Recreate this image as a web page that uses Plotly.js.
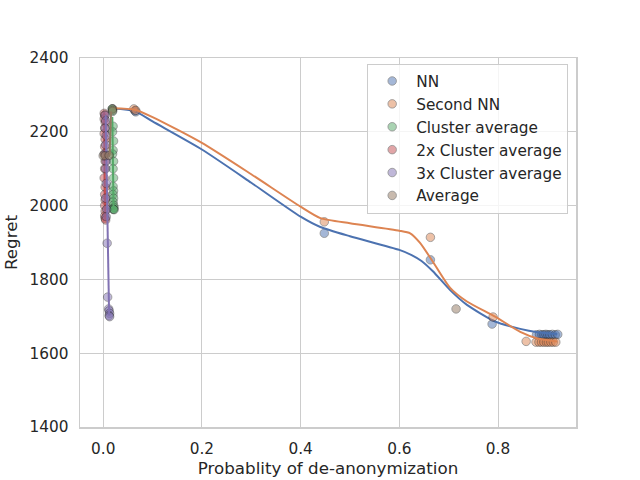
<!DOCTYPE html>
<html>
<head>
<meta charset="utf-8">
<script src="https://cdn.plot.ly/plotly-3.0.1.min.js"></script>
<style>
  html, body { margin: 0; padding: 0; background: #fff; }
  #chart { width: 640px; height: 480px; }
</style>
</head>
<body>
<div id="chart"></div>
<script>
// Regret vs probability of de-anonymization, one scatter + fitted curve per strategy.

// --- scatter points ---
const nnX = [0.019, 0.064, 0.066, 0.448, 0.663, 0.788, 0.878, 0.884, 0.889, 0.893, 0.897, 0.901, 0.905, 0.910, 0.916, 0.921];
const nnY = [2262, 2257, 2254, 1925, 1853, 1679, 1650, 1651, 1650, 1650, 1651, 1650, 1650, 1651, 1650, 1651];

const secondNnX = [0.019, 0.062, 0.066, 0.448, 0.663, 0.790, 0.857, 0.877, 0.883, 0.888, 0.893, 0.898, 0.902, 0.907, 0.912, 0.917];
const secondNnY = [2262, 2262, 2258, 1956, 1914, 1698, 1632, 1630, 1630, 1630, 1630, 1630, 1630, 1630, 1630, 1630];

const clusterX = [0.018, 0.019, 0.020, 0.019, 0.021, 0.020, 0.019, 0.021, 0.020, 0.021, 0.020, 0.021, 0.020, 0.021, 0.020, 0.021, 0.022, 0.020, 0.021, 0.022];
const clusterY = [2262, 2255, 2215, 2200, 2175, 2150, 2140, 2120, 2100, 2075, 2052, 2040, 2030, 2020, 2010, 2001, 1995, 1991, 1990, 1989];

const cluster2X = [0.002, 0.003, 0.002, 0.004, 0.003, 0.002, 0.004, 0.003, 0.002, 0.004, 0.003, 0.002, 0.004, 0.003, 0.004, 0.003, 0.004, 0.003, 0.004, 0.005];
const cluster2Y = [2250, 2245, 2235, 2225, 2210, 2195, 2180, 2160, 2140, 2120, 2100, 2075, 2050, 2030, 2015, 2000, 1985, 1972, 1965, 1961];

const cluster3X = [0.004, 0.005, 0.004, 0.006, 0.005, 0.004, 0.006, 0.005, 0.006, 0.005, 0.007, 0.006, 0.008, 0.009, 0.011, 0.012, 0.013, 0.012, 0.013];
const cluster3Y = [2245, 2230, 2210, 2190, 2165, 2140, 2120, 2100, 2060, 2020, 1990, 1970, 1898, 1752, 1720, 1715, 1708, 1702, 1699];

const averageX = [0.000, 0.004, 0.012, 0.019, 0.715];
const averageY = [2135, 2135, 2136, 2258, 1720];

// --- fitted curves ---
const nnFitX = [0.019, 0.064, 0.10, 0.20, 0.30, 0.40, 0.44, 0.50, 0.60, 0.625, 0.645, 0.668, 0.703, 0.737, 0.794, 0.845, 0.88, 0.92];
const nnFitY = [2263, 2256, 2228, 2152, 2062, 1970, 1942, 1917, 1880, 1866, 1850, 1822, 1771, 1731, 1686, 1666, 1657, 1652];

const secondNnFitX = [0.019, 0.064, 0.10, 0.20, 0.30, 0.40, 0.44, 0.50, 0.60, 0.622, 0.642, 0.668, 0.703, 0.737, 0.794, 0.845, 0.88, 0.92];
const secondNnFitY = [2264, 2260, 2240, 2170, 2085, 1997, 1966, 1952, 1932, 1925, 1899, 1848, 1777, 1740, 1699, 1658, 1640, 1632];

const clusterFitX = [0.0185, 0.021];
const clusterFitY = [2240, 1990];
const cluster2FitX = [0.002, 0.004];
const cluster2FitY = [2254, 1961];
const cluster3FitX = [0.005, 0.012];
const cluster3FitY = [2245, 1702];
const averageFitX = [0.016, 0.013];
const averageFitY = [2255, 2135];

const SERIES = [
  { name: 'NN',                  x: nnX,       y: nnY,       fx: nnFitX,       fy: nnFitY,       color: '#4c72b0' },
  { name: 'Second NN',           x: secondNnX, y: secondNnY, fx: secondNnFitX, fy: secondNnFitY, color: '#dd8452' },
  { name: 'Cluster average',     x: clusterX,  y: clusterY,  fx: clusterFitX,  fy: clusterFitY,  color: '#55a868' },
  { name: '2x Cluster average',  x: cluster2X, y: cluster2Y, fx: cluster2FitX, fy: cluster2FitY, color: '#c44e52' },
  { name: '3x Cluster average',  x: cluster3X, y: cluster3Y, fx: cluster3FitX, fy: cluster3FitY, color: '#8172b3' },
  { name: 'Average',             x: averageX,  y: averageY,  fx: averageFitX,  fy: averageFitY,  color: '#937860' }
];

const TEXT = '#262626';
const GRID = '#cccccc';
const FONT = 'DejaVu Sans, sans-serif';

const data = [];
SERIES.forEach((s, i) => {
  data.push({
    x: s.x, y: s.y, type: 'scatter', mode: 'markers', name: s.name,
    legendgroup: 'g' + i,
    marker: { color: s.color, size: 8.5, opacity: 0.5, line: { color: '#222', width: 0.8 } }
  });
  data.push({
    x: s.fx, y: s.fy, type: 'scatter', mode: 'lines', showlegend: false,
    legendgroup: 'g' + i, hoverinfo: 'skip',
    line: { color: s.color, width: 2, shape: 'spline', smoothing: 0.6 }
  });
});

const axisBase = {
  showgrid: true, gridcolor: GRID, gridwidth: 1,
  zeroline: false,
  showline: true, linecolor: GRID, linewidth: 1.5, mirror: true,
  ticks: '', tickfont: { family: FONT, size: 15.3, color: TEXT },
  ticklabelstandoff: 7
};

const layout = {
  width: 640, height: 480,
  paper_bgcolor: '#fff', plot_bgcolor: '#fff',
  font: { family: FONT, color: TEXT },
  margin: { l: 80, r: 64, t: 58, b: 53 },
  showlegend: true,
  xaxis: {
    ...axisBase,
    range: [-0.047, 0.958],
    tickvals: [0, 0.2, 0.4, 0.6, 0.8], ticktext: ['0.0', '0.2', '0.4', '0.6', '0.8'],
    title: { text: 'Probablity of de-anonymization', font: { family: FONT, size: 16.7, color: TEXT }, standoff: 5 }
  },
  yaxis: {
    ...axisBase,
    range: [1400, 2400],
    tickvals: [1400, 1600, 1800, 2000, 2200, 2400],
    title: { text: 'Regret', font: { family: FONT, size: 16.7, color: TEXT }, standoff: 7 }
  },
  legend: {
    x: 0.579, y: 0.985, xanchor: 'left', yanchor: 'top',
    bgcolor: 'rgba(255,255,255,0.8)', bordercolor: GRID, borderwidth: 1,
    font: { family: FONT, size: 15.3, color: TEXT },
    itemwidth: 38,
    tracegroupgap: 0
  }
};

Plotly.newPlot('chart', data, layout, { displayModeBar: false, staticPlot: true });
</script>
</body>
</html>
